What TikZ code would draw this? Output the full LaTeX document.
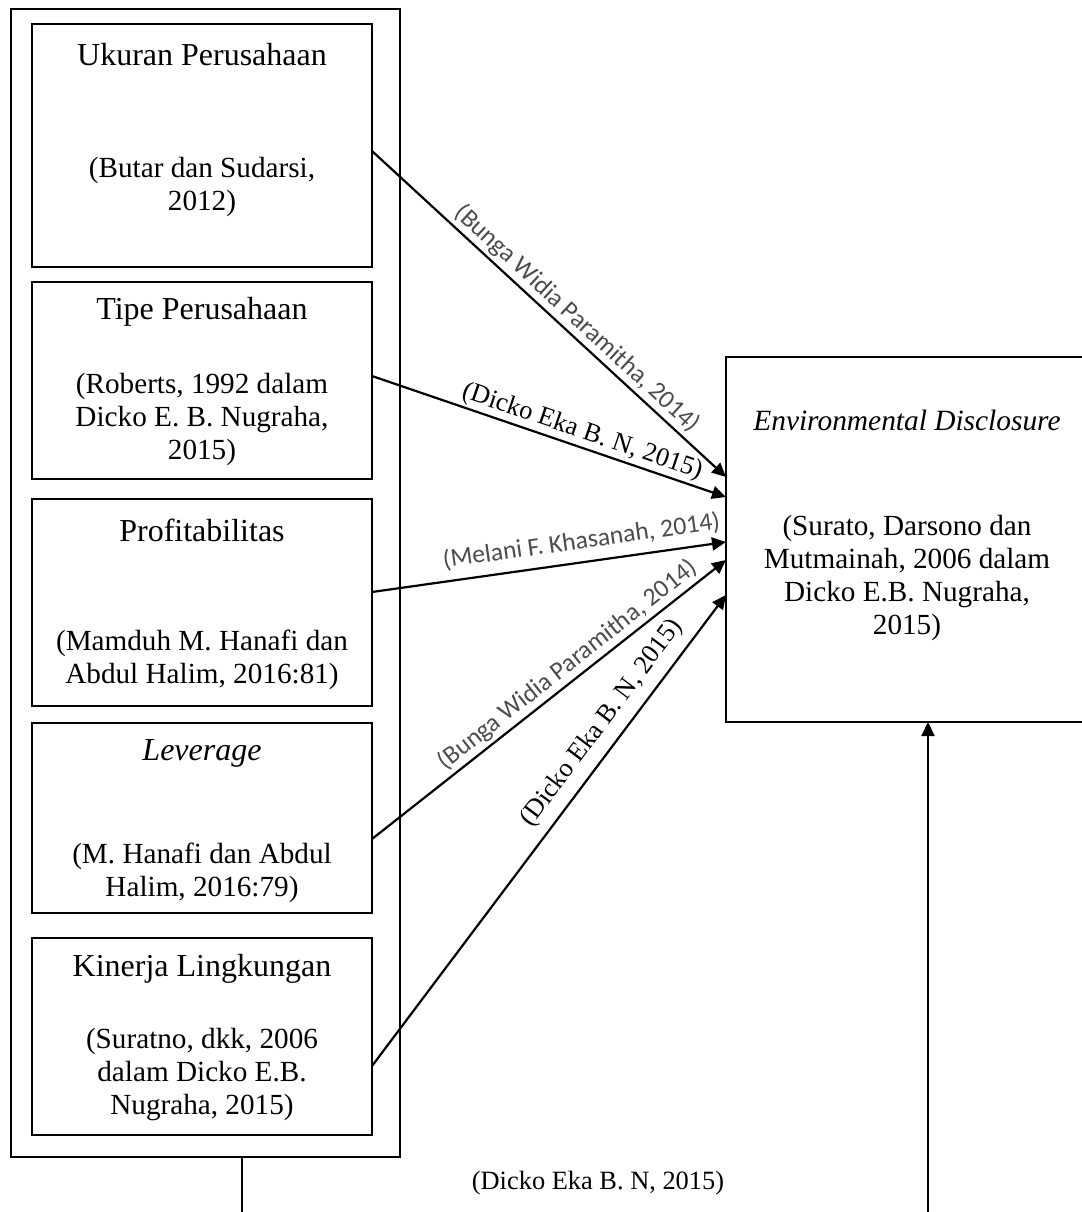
\documentclass[tikz,border=0pt]{standalone}
\usepackage{fontspec}
\setmainfont{Liberation Serif}
\newfontfamily\calibri{Carlito}
\usetikzlibrary{calc,arrows.meta,positioning}

\begin{document}
\begin{tikzpicture}[x=0.5pt,y=-0.5pt]
  \tikzset{
    box/.style={draw=black, line width=1pt, inner sep=0pt, outer sep=0pt},
    ttl/.style={font=\fontsize{16}{16.5}\selectfont, inner sep=0pt},
    cit/.style={font=\fontsize{14.6}{16.5}\selectfont, align=center, inner sep=0pt},
    link/.style={-{Triangle[length=7pt,width=6.5pt]}, black, line width=1.1pt},
    refA/.style={font=\fontsize{13.2}{14}\selectfont, inner sep=1pt},
    refB/.style={font=\calibri\fontsize{12.8}{14}\selectfont, text=black!70, inner sep=1.5pt}
  }
  \useasboundingbox (0,0) rectangle (1082,1212);

  % Outer group of the independent variables
  \node[box, minimum width=194.5pt, minimum height=574pt] (grp) at (205.5,583) {};

  % Variable boxes
  \node[box, minimum width=170pt, minimum height=121.5pt] (uk) at (202,145.5) {};
  \node[box, minimum width=170pt, minimum height=98.5pt] (tp) at (202,380.5) {};
  \node[box, minimum width=170pt, minimum height=103.5pt] (pr) at (202,602.5) {};
  \node[box, minimum width=170pt, minimum height=95pt] (lv) at (202,818) {};
  \node[box, minimum width=170pt, minimum height=98.5pt] (kl) at (202,1036.5) {};

  \node[ttl] (uk-t) at (202,55) {Ukuran Perusahaan};
  \node[cit] (uk-c) at (202,186.5) {(Butar dan Sudarsi,\\2012)};
  \node[ttl] (tp-t) at (202,312) {Tipe Perusahaan};
  \node[cit] (tp-c) at (202,419) {(Roberts, 1992 dalam\\Dicko E. B. Nugraha,\\2015)};
  \node[ttl] (pr-t) at (202,530) {Profitabilitas};
  \node[cit] (pr-c) at (202,659.5) {(Mamduh M. Hanafi dan\\Abdul Halim, 2016:81)};
  \node[ttl] (lv-t) at (202,753) {\textit{Leverage}};
  \node[cit] (lv-c) at (202,872.5) {(M. Hanafi dan Abdul\\Halim, 2016:79)};
  \node[ttl] (kl-t) at (202,969) {Kinerja Lingkungan};
  \node[cit] (kl-c) at (202,1074.5) {(Suratno, dkk, 2006\\dalam Dicko E.B.\\Nugraha, 2015)};

  % Dependent variable
  \node[box, minimum width=181pt, minimum height=182.5pt] (ed) at (907,539.5) {};
  \node[ttl, font=\fontsize{14.7}{16.5}\selectfont\itshape] (ed-t) at (907,420) {Environmental Disclosure};
  \node[cit] (ed-c) at (907,578) {(Surato, Darsono dan\\Mutmainah, 2006 dalam\\Dicko E.B. Nugraha,\\2015)};

  % Arrow ends
  \coordinate (s1) at ($(uk.east)+(0,5.5)$);
  \coordinate (s2) at ($(tp.east)+(0,-4.5)$);
  \coordinate (s3) at ($(pr.east)+(0,-10.5)$);
  \coordinate (s4) at ($(lv.east)+(0,21)$);
  \coordinate (s5) at ($(kl.east)+(0,29.5)$);
  \coordinate (e1) at ($(ed.north west)+(0,120)$);
  \coordinate (e2) at ($(ed.north west)+(0,140)$);
  \coordinate (e3) at ($(ed.north west)+(0,185)$);
  \coordinate (e4) at ($(ed.north west)+(0,203)$);
  \coordinate (e5) at ($(ed.north west)+(0,238)$);

  % Partial effects
  \draw[link] (s1) -- node[refB, pos=0.55, above, sloped] (l1) {(Bunga Widia Paramitha, 2014)} (e1);
  \draw[link] (s2) -- node[refA, pos=0.58, above, sloped] (l2) {(Dicko Eka B. N, 2015)} (e2);
  \draw[link] (s3) -- node[refB, pos=0.6, above=3pt, sloped] (l3) {(Melani F. Khasanah, 2014)} (e3);
  \draw[link] (s4) -- node[refB, pos=0.58, above, sloped] (l4) {(Bunga Widia Paramitha, 2014)} (e4);
  \draw[link] (s5) -- node[refA, pos=0.70, above=3.5pt, sloped] (l5) {(Dicko Eka B. N, 2015)} (e5);

  % Simultaneous effect
  \coordinate (g-out) at ($(grp.south)+(36.5,0)$);
  \coordinate (ed-in) at ($(ed.south)+(21,0)$);
  \draw[link] (g-out) -- ++(0,90) -| (ed-in);
  \node[refA] (sim) at (598,1183) {(Dicko Eka B. N, 2015)};
\end{tikzpicture}
\end{document}
